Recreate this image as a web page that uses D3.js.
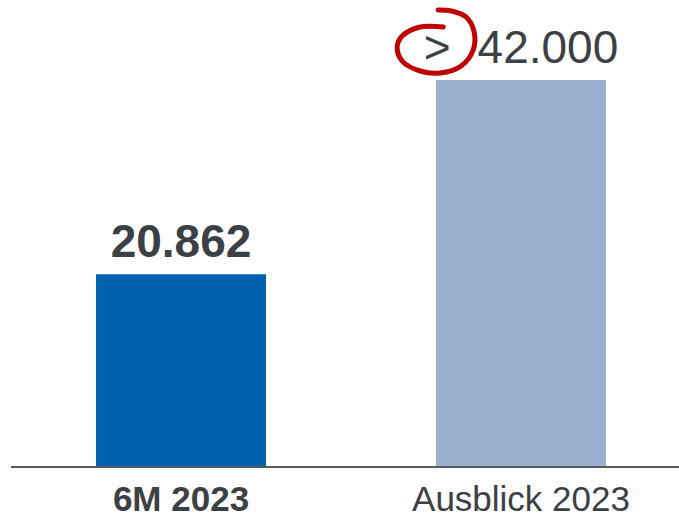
<!DOCTYPE html>
<html>
<head>
<meta charset="utf-8">
<script src="https://cdn.jsdelivr.net/npm/d3@7"></script>
<style>
  html, body { margin: 0; padding: 0; background: #fff; }
  svg { display: block; font-family: Arial, "Liberation Sans", sans-serif; }
</style>
</head>
<body>
<svg width="679" height="519"></svg>
<script>
// chart values
var categories = ["6M 2023", "Ausblick 2023"];
var values = [20862, 42000];
var valueLabels = ["20.862", "42.000"];
var prefixes = ["", ">"];
var barColors = ["#0061ae", "#9db0cf"];

var textColor = "#3b4045";
var svg = d3.select("svg");

var x = d3.scaleBand()
  .domain(categories)
  .range([11, 691])
  .paddingInner(0.5)
  .paddingOuter(0.25);

var y = d3.scaleLinear()
  .domain([0, 42000])
  .range([466, 80]);

// bars
svg.selectAll("rect.bar")
  .data(values)
  .enter().append("rect")
  .attr("class", "bar")
  .attr("x", function (d, i) { return x(categories[i]); })
  .attr("y", function (d) { return y(d); })
  .attr("width", x.bandwidth())
  .attr("height", function (d) { return y(0) - y(d); })
  .attr("fill", function (d, i) { return barColors[i]; });

// baseline
svg.append("line")
  .attr("x1", 11).attr("x2", 679)
  .attr("y1", y(0) + 1).attr("y2", y(0) + 1)
  .attr("stroke", "#555b60")
  .attr("stroke-width", 2);

// category labels
svg.selectAll("text.cat")
  .data(categories)
  .enter().append("text")
  .attr("class", "cat")
  .attr("x", function (d) { return x(d) + x.bandwidth() / 2; })
  .attr("y", 511)
  .attr("text-anchor", "middle")
  .attr("font-size", "35px")
  .attr("font-weight", function (d, i) { return i == 0 ? "bold" : "normal"; })
  .attr("fill", textColor)
  .text(function (d) { return d; });

// value labels
values.forEach(function (v, i) {
  var cx = x(categories[i]) + x.bandwidth() / 2;
  var t = svg.append("text")
    .attr("x", cx)
    .attr("y", y(v) - 17)
    .attr("text-anchor", "middle")
    .attr("font-size", "46px")
    .attr("font-weight", i == 0 ? "bold" : "normal")
    .attr("fill", textColor);

  if (prefixes[i]) {
    var pre = t.append("tspan").text(prefixes[i]);
    t.append("tspan").attr("dx", 27).text(valueLabels[i]);

    // hand-drawn red ring round the ">" sign
    var total = t.node().getComputedTextLength() + 27;
    var preW = pre.node().getComputedTextLength();
    var gx = cx - total / 2 + preW / 2 + 1;
    var gy = y(v) - 17 - 15;
    var ring = [[5, -21], [-18, -21], [-36, -12], [-41, -1], [-36, 13], [-18, 23],
                [2, 25], [23, 18], [35, 2], [36, -16], [28, -31], [13, -37], [0, -38]];
    svg.append("path")
      .attr("d", d3.line().curve(d3.curveCatmullRom)(ring.map(function (p) { return [gx + p[0], gy + p[1]]; })))
      .attr("fill", "none")
      .attr("stroke", "#c00000")
      .attr("stroke-width", 5)
      .attr("stroke-linecap", "round");
  } else {
    t.text(valueLabels[i]);
  }
});
</script>
</body>
</html>
